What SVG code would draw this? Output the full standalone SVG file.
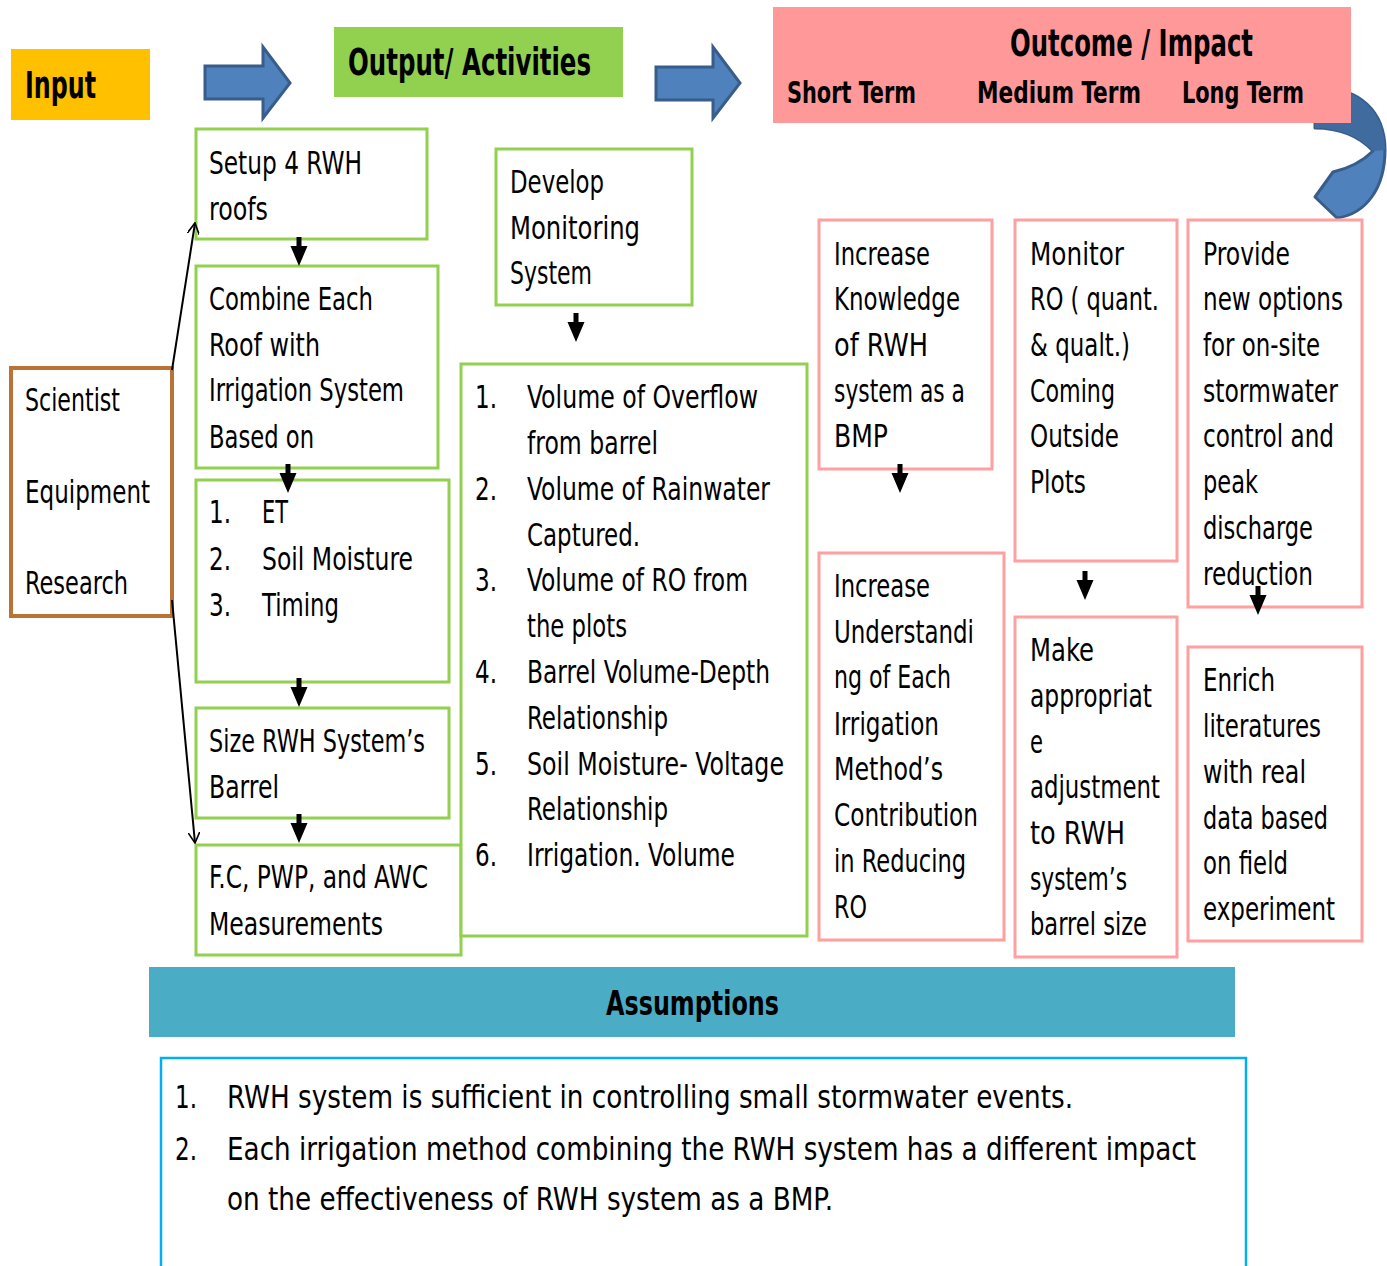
<svg xmlns="http://www.w3.org/2000/svg" width="1387" height="1266" viewBox="0 0 1387 1266">
  <style>
    text { font-family: "Liberation Sans Narrow", "Arial Narrow", "DejaVu Sans Condensed", "Liberation Sans", sans-serif; fill: #000; }
    .t { font-size: 32px; }
    .h { font-size: 37px; font-weight: bold; }
    .s { font-size: 30px; font-weight: bold; }
    .g { fill: #fff; stroke: #92D050; stroke-width: 3; }
    .p { fill: #fff; stroke: #FF9F9F; stroke-width: 3; }
    .blk { fill: #4F81BD; stroke: #385D8A; stroke-width: 3; }
    .ln { stroke: #000; stroke-width: 2; fill: none; }
  </style>
  <defs>
    <path id="dn" d="M-2.5,0 H2.5 V9 H8.5 L0,29 L-8.5,9 H-2.5 Z" fill="#000"/>
    <marker id="open" viewBox="0 0 12 12" refX="11" refY="6" markerWidth="12" markerHeight="12" markerUnits="userSpaceOnUse" orient="auto">
      <path d="M0,0 L11,6 L0,12" fill="none" stroke="#000" stroke-width="1.6"/>
    </marker>
  </defs>

  <rect width="1387" height="1266" fill="#fff"/>

  <!-- header row -->
  <g id="input-title">
    <rect x="11" y="49" width="139" height="71" fill="#FFC000"/>
    <text class="h" x="25" y="98" textLength="71" lengthAdjust="spacingAndGlyphs">Input</text>
  </g>
  <g id="arrow-input-output">
    <path class="blk" d="M205,66 H263 V47 L290,83 L263,118 V99 H205 Z"/>
  </g>
  <g id="output-title">
    <rect x="334" y="27" width="289" height="70" fill="#92D050"/>
    <text class="h" x="348" y="75" textLength="243" lengthAdjust="spacingAndGlyphs">Output/ Activities</text>
  </g>
  <g id="arrow-output-outcome">
    <path class="blk" d="M656,67 H713 V47 L740,83 L713,118 V100 H656 Z"/>
  </g>
  <g id="return-arrow">
    <path d="M1315,88 C1360,86 1385,112 1385,150 C1385,188 1366,214 1337,218 L1315,197 L1333,172 C1350,168 1364,160 1373,151 C1360,137 1340,128 1315,128 Z" fill="#4F81BD" stroke="#385D8A" stroke-width="3" stroke-linejoin="round"/>
    <path d="M1315,88 C1360,86 1385,112 1385,150 L1373,151 C1360,137 1340,128 1315,128 Z" fill="#3F6B9E"/>
  </g>
  <g id="outcome-title">
    <rect x="773" y="7" width="578" height="116" fill="#FF9999"/>
    <text class="h" x="1010" y="56" textLength="243" lengthAdjust="spacingAndGlyphs">Outcome / Impact</text>
    <text class="s" x="787" y="103" textLength="129" lengthAdjust="spacingAndGlyphs">Short Term</text>
    <text class="s" x="977" y="103" textLength="164" lengthAdjust="spacingAndGlyphs">Medium Term</text>
    <text class="s" x="1182" y="103" textLength="122" lengthAdjust="spacingAndGlyphs">Long Term</text>
  </g>

  <!-- inputs -->
  <g id="inputs">
    <rect x="11" y="368" width="161" height="248" fill="#fff" stroke="#BA7235" stroke-width="4"/>
    <text class="t" x="25" y="411" textLength="95" lengthAdjust="spacingAndGlyphs">Scientist</text>
    <text class="t" x="25" y="503" textLength="125" lengthAdjust="spacingAndGlyphs">Equipment</text>
    <text class="t" x="25" y="594" textLength="103" lengthAdjust="spacingAndGlyphs">Research</text>
  </g>

  <!-- activities -->
  <g id="setup-roofs">
    <rect class="g" x="196" y="129" width="231" height="110"/>
    <text class="t" x="209" y="174" textLength="153" lengthAdjust="spacingAndGlyphs">Setup 4 RWH</text>
    <text class="t" x="209" y="220" textLength="59" lengthAdjust="spacingAndGlyphs">roofs</text>
  </g>
  <g id="combine-roof">
    <rect class="g" x="196" y="266" width="242" height="202"/>
    <text class="t" x="209" y="310" textLength="164" lengthAdjust="spacingAndGlyphs">Combine Each</text>
    <text class="t" x="209" y="356" textLength="111" lengthAdjust="spacingAndGlyphs">Roof with</text>
    <text class="t" x="209" y="401" textLength="195" lengthAdjust="spacingAndGlyphs">Irrigation System</text>
    <text class="t" x="209" y="448" textLength="105" lengthAdjust="spacingAndGlyphs">Based on</text>
  </g>
  <g id="criteria">
    <rect class="g" x="196" y="480" width="253" height="202"/>
    <text class="t" x="209" y="523" textLength="22" lengthAdjust="spacingAndGlyphs">1.</text><text class="t" x="262" y="523" textLength="26" lengthAdjust="spacingAndGlyphs">ET</text>
    <text class="t" x="209" y="570" textLength="22" lengthAdjust="spacingAndGlyphs">2.</text><text class="t" x="262" y="570" textLength="151" lengthAdjust="spacingAndGlyphs">Soil Moisture</text>
    <text class="t" x="209" y="616" textLength="22" lengthAdjust="spacingAndGlyphs">3.</text><text class="t" x="262" y="616" textLength="77" lengthAdjust="spacingAndGlyphs">Timing</text>
  </g>
  <g id="size-barrel">
    <rect class="g" x="196" y="708" width="253" height="110"/>
    <text class="t" x="209" y="752" textLength="216" lengthAdjust="spacingAndGlyphs">Size RWH System’s</text>
    <text class="t" x="209" y="798" textLength="70" lengthAdjust="spacingAndGlyphs">Barrel</text>
  </g>
  <g id="soil-measurements">
    <rect class="g" x="196" y="845" width="265" height="110"/>
    <text class="t" x="209" y="888" textLength="219" lengthAdjust="spacingAndGlyphs">F.C, PWP, and AWC</text>
    <text class="t" x="209" y="935" textLength="174" lengthAdjust="spacingAndGlyphs">Measurements</text>
  </g>
  <g id="monitoring">
    <rect class="g" x="496" y="149" width="196" height="156"/>
    <text class="t" x="510" y="193" textLength="94" lengthAdjust="spacingAndGlyphs">Develop</text>
    <text class="t" x="510" y="239" textLength="130" lengthAdjust="spacingAndGlyphs">Monitoring</text>
    <text class="t" x="510" y="284" textLength="82" lengthAdjust="spacingAndGlyphs">System</text>
  </g>
  <g id="measured-list">
    <rect class="g" x="461" y="364" width="346" height="572"/>
    <text class="t" x="475" y="408" textLength="22" lengthAdjust="spacingAndGlyphs">1.</text><text class="t" x="527" y="408" textLength="231" lengthAdjust="spacingAndGlyphs">Volume of Overflow</text>
    <text class="t" x="527" y="454" textLength="131" lengthAdjust="spacingAndGlyphs">from barrel</text>
    <text class="t" x="475" y="500" textLength="22" lengthAdjust="spacingAndGlyphs">2.</text><text class="t" x="527" y="500" textLength="243" lengthAdjust="spacingAndGlyphs">Volume of Rainwater</text>
    <text class="t" x="527" y="546" textLength="113" lengthAdjust="spacingAndGlyphs">Captured.</text>
    <text class="t" x="475" y="591" textLength="22" lengthAdjust="spacingAndGlyphs">3.</text><text class="t" x="527" y="591" textLength="221" lengthAdjust="spacingAndGlyphs">Volume of RO from</text>
    <text class="t" x="527" y="637" textLength="100" lengthAdjust="spacingAndGlyphs">the plots</text>
    <text class="t" x="475" y="683" textLength="22" lengthAdjust="spacingAndGlyphs">4.</text><text class="t" x="527" y="683" textLength="243" lengthAdjust="spacingAndGlyphs">Barrel Volume-Depth</text>
    <text class="t" x="527" y="729" textLength="141" lengthAdjust="spacingAndGlyphs">Relationship</text>
    <text class="t" x="475" y="775" textLength="22" lengthAdjust="spacingAndGlyphs">5.</text><text class="t" x="527" y="775" textLength="257" lengthAdjust="spacingAndGlyphs">Soil Moisture- Voltage</text>
    <text class="t" x="527" y="820" textLength="141" lengthAdjust="spacingAndGlyphs">Relationship</text>
    <text class="t" x="475" y="866" textLength="22" lengthAdjust="spacingAndGlyphs">6.</text><text class="t" x="527" y="866" textLength="208" lengthAdjust="spacingAndGlyphs">Irrigation. Volume</text>
  </g>

  <!-- outcomes -->
  <g id="knowledge">
    <rect class="p" x="819" y="220" width="173" height="249"/>
    <text class="t" x="834" y="265" textLength="96" lengthAdjust="spacingAndGlyphs">Increase</text>
    <text class="t" x="834" y="310" textLength="126" lengthAdjust="spacingAndGlyphs">Knowledge</text>
    <text class="t" x="834" y="356" textLength="94" lengthAdjust="spacingAndGlyphs">of  RWH</text>
    <text class="t" x="834" y="402" textLength="131" lengthAdjust="spacingAndGlyphs">system as a</text>
    <text class="t" x="834" y="447" textLength="54" lengthAdjust="spacingAndGlyphs">BMP</text>
  </g>
  <g id="understanding">
    <rect class="p" x="819" y="553" width="185" height="387"/>
    <text class="t" x="834" y="597" textLength="96" lengthAdjust="spacingAndGlyphs">Increase</text>
    <text class="t" x="834" y="643" textLength="140" lengthAdjust="spacingAndGlyphs">Understandi</text>
    <text class="t" x="834" y="688" textLength="117" lengthAdjust="spacingAndGlyphs">ng of Each</text>
    <text class="t" x="834" y="735" textLength="105" lengthAdjust="spacingAndGlyphs">Irrigation</text>
    <text class="t" x="834" y="780" textLength="109" lengthAdjust="spacingAndGlyphs">Method’s</text>
    <text class="t" x="834" y="826" textLength="144" lengthAdjust="spacingAndGlyphs">Contribution</text>
    <text class="t" x="834" y="872" textLength="132" lengthAdjust="spacingAndGlyphs">in Reducing</text>
    <text class="t" x="834" y="918" textLength="33" lengthAdjust="spacingAndGlyphs">RO</text>
  </g>
  <g id="monitor-ro">
    <rect class="p" x="1015" y="220" width="162" height="341"/>
    <text class="t" x="1030" y="265" textLength="94" lengthAdjust="spacingAndGlyphs">Monitor</text>
    <text class="t" x="1030" y="310" textLength="129" lengthAdjust="spacingAndGlyphs">RO ( quant.</text>
    <text class="t" x="1030" y="356" textLength="100" lengthAdjust="spacingAndGlyphs">&amp; qualt.)</text>
    <text class="t" x="1030" y="402" textLength="85" lengthAdjust="spacingAndGlyphs">Coming</text>
    <text class="t" x="1030" y="447" textLength="89" lengthAdjust="spacingAndGlyphs">Outside</text>
    <text class="t" x="1030" y="493" textLength="56" lengthAdjust="spacingAndGlyphs">Plots</text>
  </g>
  <g id="barrel-adjustment">
    <rect class="p" x="1015" y="617" width="162" height="340"/>
    <text class="t" x="1030" y="661" textLength="64" lengthAdjust="spacingAndGlyphs">Make</text>
    <text class="t" x="1030" y="707" textLength="122" lengthAdjust="spacingAndGlyphs">appropriat</text>
    <text class="t" x="1030" y="753" textLength="13" lengthAdjust="spacingAndGlyphs">e</text>
    <text class="t" x="1030" y="798" textLength="130" lengthAdjust="spacingAndGlyphs">adjustment</text>
    <text class="t" x="1030" y="844" textLength="95" lengthAdjust="spacingAndGlyphs">to  RWH</text>
    <text class="t" x="1030" y="890" textLength="97" lengthAdjust="spacingAndGlyphs">system’s</text>
    <text class="t" x="1030" y="935" textLength="117" lengthAdjust="spacingAndGlyphs">barrel size</text>
  </g>
  <g id="new-options">
    <rect class="p" x="1188" y="220" width="174" height="387"/>
    <text class="t" x="1203" y="265" textLength="87" lengthAdjust="spacingAndGlyphs">Provide</text>
    <text class="t" x="1203" y="310" textLength="140" lengthAdjust="spacingAndGlyphs">new options</text>
    <text class="t" x="1203" y="356" textLength="117" lengthAdjust="spacingAndGlyphs">for on-site</text>
    <text class="t" x="1203" y="402" textLength="135" lengthAdjust="spacingAndGlyphs">stormwater</text>
    <text class="t" x="1203" y="447" textLength="131" lengthAdjust="spacingAndGlyphs">control and</text>
    <text class="t" x="1203" y="493" textLength="55" lengthAdjust="spacingAndGlyphs">peak</text>
    <text class="t" x="1203" y="539" textLength="110" lengthAdjust="spacingAndGlyphs">discharge</text>
    <text class="t" x="1203" y="585" textLength="110" lengthAdjust="spacingAndGlyphs">reduction</text>
  </g>
  <g id="enrich-literature">
    <rect class="p" x="1188" y="647" width="174" height="294"/>
    <text class="t" x="1203" y="691" textLength="72" lengthAdjust="spacingAndGlyphs">Enrich</text>
    <text class="t" x="1203" y="737" textLength="118" lengthAdjust="spacingAndGlyphs">literatures</text>
    <text class="t" x="1203" y="783" textLength="103" lengthAdjust="spacingAndGlyphs">with real</text>
    <text class="t" x="1203" y="829" textLength="125" lengthAdjust="spacingAndGlyphs">data based</text>
    <text class="t" x="1203" y="874" textLength="85" lengthAdjust="spacingAndGlyphs">on field</text>
    <text class="t" x="1203" y="920" textLength="132" lengthAdjust="spacingAndGlyphs">experiment</text>
  </g>

  <!-- assumptions -->
  <g id="assumptions-title">
    <rect x="149" y="967" width="1086" height="70" fill="#4BACC6"/>
    <text class="h" x="606" y="1015" style="font-size:34px" textLength="173" lengthAdjust="spacingAndGlyphs">Assumptions</text>
  </g>
  <g id="assumptions">
    <path d="M161,1268 V1058 H1246 V1268" fill="#fff" stroke="#00B0F0" stroke-width="2.5"/>
    <text class="t" x="175" y="1108" textLength="22" lengthAdjust="spacingAndGlyphs">1.</text>
    <text class="t" x="227" y="1108" textLength="846" lengthAdjust="spacingAndGlyphs">RWH system is sufficient in controlling small stormwater events.</text>
    <text class="t" x="175" y="1160" textLength="22" lengthAdjust="spacingAndGlyphs">2.</text>
    <text class="t" x="227" y="1160" textLength="969" lengthAdjust="spacingAndGlyphs">Each irrigation method combining the RWH system has a different impact</text>
    <text class="t" x="227" y="1210" textLength="606" lengthAdjust="spacingAndGlyphs">on the effectiveness of RWH system as a BMP.</text>
  </g>

  <!-- connectors -->
  <g id="connectors">
    <line class="ln" x1="172" y1="370" x2="195" y2="223" marker-end="url(#open)"/>
    <line class="ln" x1="172" y1="600" x2="195" y2="843" marker-end="url(#open)"/>
    <use href="#dn" x="299" y="237"/>
    <use href="#dn" x="288" y="464"/>
    <use href="#dn" x="299" y="678"/>
    <use href="#dn" x="299" y="814"/>
    <use href="#dn" x="576" y="313"/>
    <use href="#dn" x="900" y="464"/>
    <use href="#dn" x="1085" y="571"/>
    <use href="#dn" x="1258" y="586"/>
  </g>
</svg>
